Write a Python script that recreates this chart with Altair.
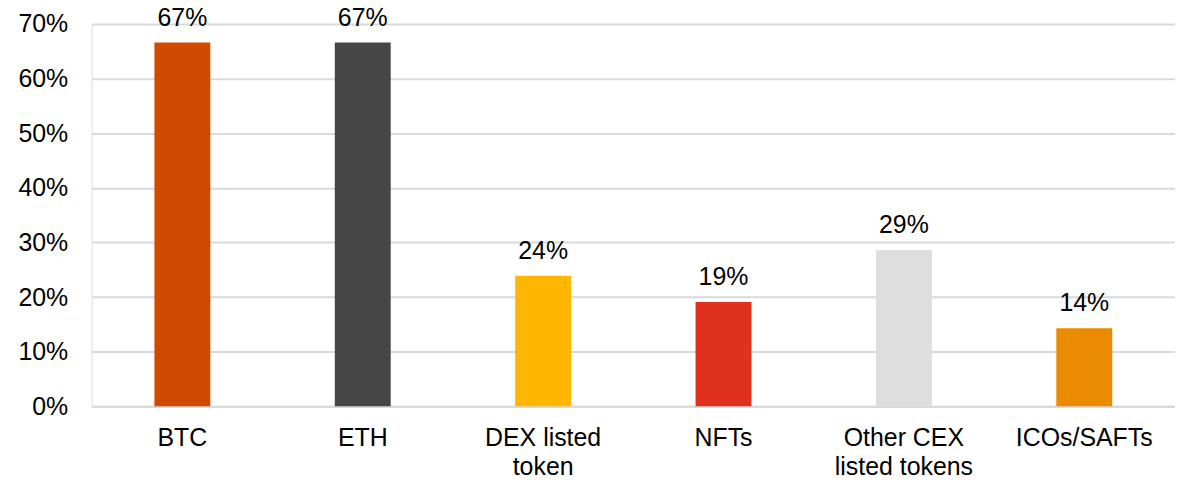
import altair as alt
import pandas as pd

categories = ["BTC", "ETH", "DEX listed token", "NFTs", "Other CEX listed tokens", "ICOs/SAFTs"]
label_lines = [["BTC"], ["ETH"], ["DEX listed", "token"], ["NFTs"], ["Other CEX", "listed tokens"], ["ICOs/SAFTs"]]
values = [0.666, 0.666, 0.239, 0.191, 0.286, 0.143]
value_labels = ["67%", "67%", "24%", "19%", "29%", "14%"]
colors = ["#D04A02", "#464646", "#FFB600", "#E0301E", "#DEDEDE", "#EB8C00"]

df = pd.DataFrame({"cat": categories, "val": values, "lbl": value_labels, "col": colors})

mapping = ", ".join(
    f"'{c}': [{', '.join(repr(s) for s in lines)}]" for c, lines in zip(categories, label_lines)
)
label_expr = f"({{{mapping}}})[datum.label]"

FONT = "Liberation Sans"
FS = 25

x = alt.X("cat:N", sort=categories, title=None,
          scale=alt.Scale(paddingInner=0.69, paddingOuter=0.348),
          axis=alt.Axis(labelExpr=label_expr, labelAngle=0, labelFontSize=FS, labelFont=FONT,
                        labelColor="#000000", labelPadding=19, labelLineHeight=30,
                        ticks=False, domainColor="#D9D9D9", domainWidth=2, grid=False))
y = alt.Y("val:Q", title=None,
          scale=alt.Scale(domain=[0, 0.7], nice=False),
          axis=alt.Axis(format=".0%", values=[0, 0.1, 0.2, 0.3, 0.4, 0.5, 0.6, 0.7],
                        labelFontSize=FS, labelFont=FONT, labelColor="#000000", labelPadding=24,
                        ticks=False, domain=False, grid=True, gridColor="#D9D9D9", gridWidth=2))

bars = alt.Chart(df).mark_bar().encode(x=x, y=y, color=alt.Color("col:N", scale=None))
text = alt.Chart(df).mark_text(baseline="alphabetic", dy=-17, fontSize=FS, font=FONT, color="#000000").encode(
    x=alt.X("cat:N", sort=categories), y="val:Q", text="lbl:N")

chart = (bars + text).properties(
    width=1088, height=384,
    autosize=alt.AutoSizeParams(type="none"),
    padding={"left": 84, "top": 15, "right": 0, "bottom": 74},
).configure_view(stroke=None).configure(background="white")

chart.save("out.html", embed_options={"renderer": "svg", "actions": False})
